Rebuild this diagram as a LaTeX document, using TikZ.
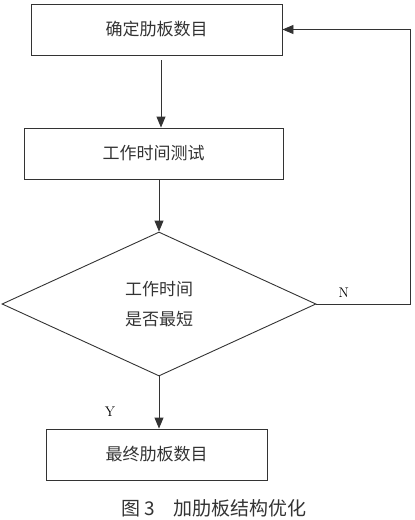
\documentclass[tikz,border=0pt]{standalone}
\usepackage{fontspec}
\newfontfamily\cjk{Noto Sans CJK SC}
\usetikzlibrary{arrows.meta, shapes.geometric}

\begin{document}
\begin{tikzpicture}[x=1pt, y=-1pt, font=\cjk\fontsize{17}{30}\selectfont,
        box/.style = {draw=black!80, line width=0.9pt, rectangle, minimum height=51pt, inner sep=0pt, text=black!80},
        cond/.style = {draw=black!80, line width=0.9pt, diamond, minimum width=314pt, minimum height=144pt, inner sep=0pt, align=center, text=black!80},
        flow/.style = {-{Triangle[length=11pt,width=9pt]}, draw=black!80, line width=0.9pt}]
            \useasboundingbox (0,0) rectangle (415,520);

            \node[box, minimum width=251pt] (ribs) at (156.5,29.5) {确定肋板数目};
            \node[box, minimum width=259pt] (test) at (153.5,153.5) {工作时间测试};
            \node[cond] (shortest) at (159,304) {工作时间\\是否最短};
            \node[box, minimum width=221pt] (final) at (156.5,454.5) {最终肋板数目};
            \node[text=black!80, font=\cjk\fontsize{19}{22}\selectfont] (caption) at (214,508) {图 3\quad 加肋板结构优化};

            \draw[flow, shorten <=5pt] ([xshift=4.5pt]ribs.south) -- ([xshift=4.5pt]ribs.south |- test.north);
            \draw[flow] (shortest.north |- test.south) -- (shortest.north);
            \draw[flow] (shortest.south) -- node[pos=0.68, left=40pt, font=\fontsize{14}{16}\selectfont] {Y} (shortest.south |- final.north);
            \draw[flow] (shortest.east) -- node[pos=0.29, above=3pt, font=\fontsize{14}{16}\selectfont] {N} ++(94,0) |- (ribs.east);
        \end{tikzpicture}
\end{document}
